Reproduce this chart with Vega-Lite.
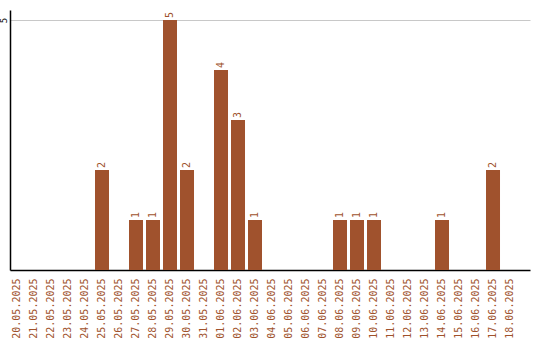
{
  "$schema": "https://vega.github.io/schema/vega-lite/v6.json",
  "width": 520,
  "height": 260,
  "autosize": {"type": "none"},
  "padding": {"left": 10, "top": 10, "right": 10, "bottom": 70},
  "background": "white",
  "config": {"view": {"stroke": null}},
  "data": {"values": [
    {"date": "20.05.2025", "value": 0},
    {"date": "21.05.2025", "value": 0},
    {"date": "22.05.2025", "value": 0},
    {"date": "23.05.2025", "value": 0},
    {"date": "24.05.2025", "value": 0},
    {"date": "25.05.2025", "value": 2},
    {"date": "26.05.2025", "value": 0},
    {"date": "27.05.2025", "value": 1},
    {"date": "28.05.2025", "value": 1},
    {"date": "29.05.2025", "value": 5},
    {"date": "30.05.2025", "value": 2},
    {"date": "31.05.2025", "value": 0},
    {"date": "01.06.2025", "value": 4},
    {"date": "02.06.2025", "value": 3},
    {"date": "03.06.2025", "value": 1},
    {"date": "04.06.2025", "value": 0},
    {"date": "05.06.2025", "value": 0},
    {"date": "06.06.2025", "value": 0},
    {"date": "07.06.2025", "value": 0},
    {"date": "08.06.2025", "value": 1},
    {"date": "09.06.2025", "value": 1},
    {"date": "10.06.2025", "value": 1},
    {"date": "11.06.2025", "value": 0},
    {"date": "12.06.2025", "value": 0},
    {"date": "13.06.2025", "value": 0},
    {"date": "14.06.2025", "value": 1},
    {"date": "15.06.2025", "value": 0},
    {"date": "16.06.2025", "value": 0},
    {"date": "17.06.2025", "value": 2},
    {"date": "18.06.2025", "value": 0}
  ]},
  "encoding": {
    "x": {
      "field": "date", "type": "nominal", "sort": null,
      "scale": {"paddingInner": 0.1765, "paddingOuter": 0.382, "align": 0},
      "axis": {
        "title": null, "labelAngle": 270, "labelAlign": "right", "labelBaseline": "middle",
        "labelFont": "DejaVu Sans Mono", "labelFontSize": 10, "labelColor": "#a0522d",
        "labelPadding": 8, "ticks": false, "domainColor": "black", "domainWidth": 1.5, "grid": false
      }
    },
    "y": {
      "field": "value", "type": "quantitative",
      "scale": {"domain": [0, 5.2], "nice": false},
      "axis": {
        "title": null, "values": [5], "labelAngle": 270, "labelAlign": "center", "labelBaseline": "bottom",
        "labelFont": "DejaVu Sans Mono", "labelFontSize": 9, "labelColor": "black", "labelPadding": 2,
        "ticks": false, "domainColor": "black", "domainWidth": 1.5, "grid": true, "gridColor": "#c8c8c8"
      }
    }
  },
  "layer": [
    {"mark": {"type": "bar", "color": "#a0522d"}},
    {
      "transform": [{"filter": "datum.value > 0"}],
      "mark": {"type": "text", "angle": 270, "align": "left", "baseline": "middle", "dx": 2,
        "font": "DejaVu Sans Mono", "fontSize": 10, "color": "#a0522d"},
      "encoding": {"text": {"field": "value"}}
    }
  ]
}
